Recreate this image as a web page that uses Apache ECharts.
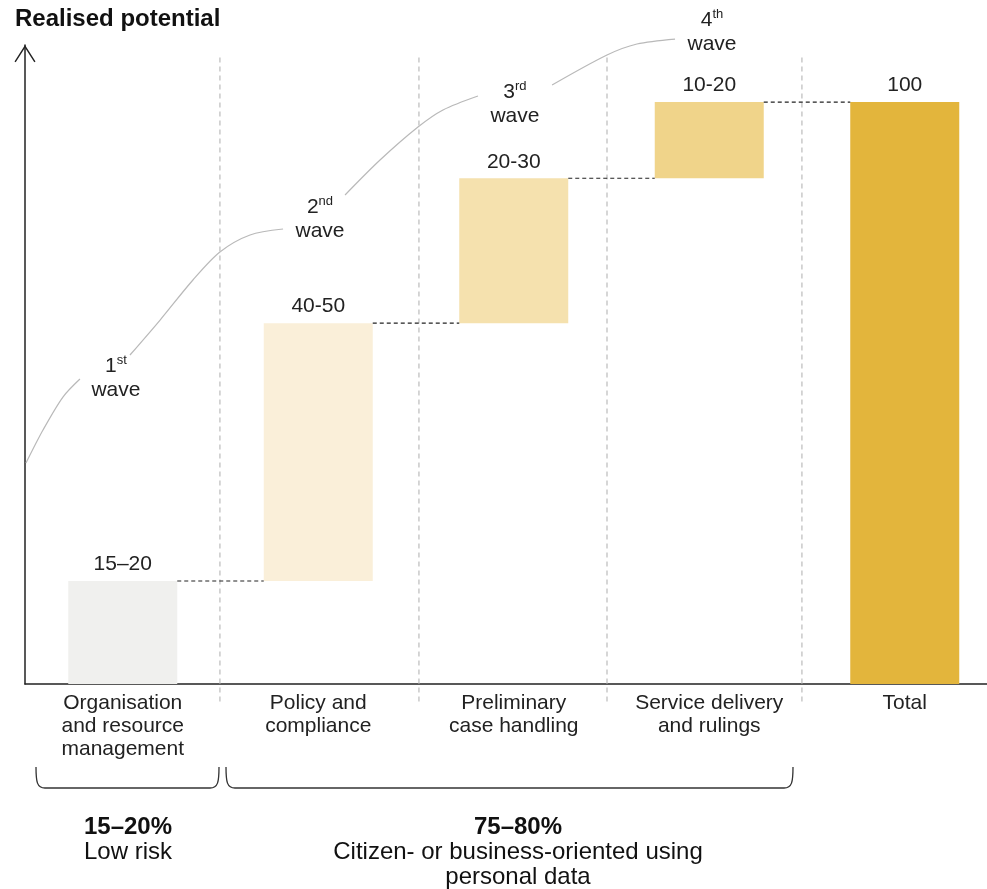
<!DOCTYPE html>
<html>
<head>
<meta charset="utf-8">
<title>Realised potential</title>
<script src="https://cdn.jsdelivr.net/npm/echarts@6/dist/echarts.min.js"></script>
<style>
  html, body { margin: 0; padding: 0; background: #fff; }
  #chart { width: 987px; height: 889px; }
</style>
</head>
<body>
<div id="chart"></div>
<script>
// Category names along the x axis
const categories = [
  'Organisation\nand resource\nmanagement',
  'Policy and\ncompliance',
  'Preliminary\ncase handling',
  'Service delivery\nand rulings',
  'Total'
];
// Step contributions of each area (share of total potential)
const stepValues = [17.7, 44.3, 24.9, 13.1];
const totalValue = 100;
// Labels written above each bar
const rangeLabels = ['15–20', '40-50', '20-30', '10-20', '100'];
const barColors = ['#f0f0ee', '#faefd9', '#f5e1ae', '#f0d48a', '#e3b53c'];

// Dashed separators between area groups (position on a 0..5 category scale)
const dividerX = [0.997, 2.015, 2.977, 3.974];
const dividerSpan = [-3.0, 108.1];

// Wave curve, broken into segments around the wave labels: [x, y] pairs
const waveSegments = [
  [[0.005, 37.97], [0.092, 43.64], [0.194, 49.31], [0.281, 52.41]],
  [[0.537, 56.53], [0.691, 62.54], [0.859, 69.42], [0.997, 74.23], [1.151, 77.15], [1.320, 78.18]],
  [[1.637, 84.02], [1.816, 90.03], [2.010, 95.70], [2.138, 98.63], [2.317, 101.03]],
  [[2.696, 102.92], [2.977, 108.08], [3.130, 109.97], [3.325, 110.82]]
];
const waveLabelNums = ['1', '2', '3', '4'];
const waveLabelSups = ['st', 'nd', 'rd', 'th'];
const waveLabelPos = [[0.465, 52.6], [1.509, 79.9], [2.506, 99.7], [3.514, 112.0]];

const FONT = '"Liberation Sans", Arial, Helvetica, sans-serif';
const TEXT = '#222';
const BAR_WIDTH = 109;
const BAND_PX = 195.5;
const Y_MAX = 109.8;

// Waterfall: invisible base + visible step
const cumulative = [];
let run = 0;
stepValues.forEach(v => { run += v; cumulative.push(run); });
const baseData = [0].concat(cumulative.slice(0, stepValues.length - 1)).concat([0]);
const visibleData = stepValues.concat([totalValue]);

const halfBar = BAR_WIDTH / 2 / BAND_PX;

const series = [];

// Wave curve segments
waveSegments.forEach(seg => {
  series.push({
    type: 'line', xAxisIndex: 1, yAxisIndex: 0,
    data: seg, smooth: 0.3, symbol: 'none', clip: false, silent: true,
    lineStyle: { color: '#b9b9b9', width: 1.2 }, z: 1
  });
});

// Vertical dashed dividers
dividerX.forEach(x => {
  series.push({
    type: 'line', xAxisIndex: 1, yAxisIndex: 0,
    data: [[x, dividerSpan[0]], [x, dividerSpan[1]]],
    symbol: 'none', clip: false, silent: true,
    lineStyle: { color: '#c9c9c9', width: 1.5, type: [5, 4] }, z: 1
  });
});

// Waterfall bars
series.push({
  type: 'bar', stack: 'w', xAxisIndex: 0, yAxisIndex: 0,
  data: baseData, barWidth: BAR_WIDTH, silent: true,
  itemStyle: { color: 'transparent' }, z: 2
});
series.push({
  type: 'bar', stack: 'w', xAxisIndex: 0, yAxisIndex: 0,
  data: visibleData.map((v, i) => ({ value: v, itemStyle: { color: barColors[i] } })),
  barWidth: BAR_WIDTH, z: 2,
  label: {
    show: true, position: 'top', distance: 6,
    formatter: p => rangeLabels[p.dataIndex],
    fontFamily: FONT, fontSize: 21, color: TEXT
  }
});

// Connectors between consecutive bar tops
cumulative.forEach((level, i) => {
  series.push({
    type: 'line', xAxisIndex: 1, yAxisIndex: 0,
    data: [[i + 0.5 + halfBar, level], [i + 1.5 - halfBar, level]],
    symbol: 'none', silent: true, clip: false,
    lineStyle: { color: '#222', width: 1.2, type: [4, 3] }, z: 3
  });
});

// Wave labels
series.push({
  type: 'scatter', xAxisIndex: 1, yAxisIndex: 0,
  data: waveLabelPos, symbolSize: 0, silent: true, clip: false,
  itemStyle: { color: TEXT, opacity: 1 },
  label: {
    show: true, position: 'inside', color: TEXT, opacity: 1,
    textBorderWidth: 0,
    formatter: p => '{n|' + waveLabelNums[p.dataIndex] + '}{s|' + waveLabelSups[p.dataIndex] + '}\n{w|wave}',
    rich: {
      n: { fontFamily: FONT, fontSize: 21, color: TEXT, lineHeight: 24 },
      s: { fontFamily: FONT, fontSize: 13, color: TEXT, lineHeight: 16, verticalAlign: 'top' },
      w: { fontFamily: FONT, fontSize: 21, color: TEXT, lineHeight: 24 }
    }
  },
  emphasis: { disabled: true }
});

const chart = echarts.init(document.getElementById('chart'), null, { renderer: 'canvas' });

// Bottom bracket: two rounded corners joined by a straight line
const braceStyle = { fill: 'none', stroke: '#333', lineWidth: 1.3 };
const brace = (x1, x2, yTop, yBot) => [
  { type: 'bezierCurve', shape: { x1: x1, y1: yTop, cpx1: x1, cpy1: yBot - 6, cpx2: x1 + 1, cpy2: yBot, x2: x1 + 9, y2: yBot }, style: braceStyle },
  { type: 'line', shape: { x1: x1 + 9, y1: yBot, x2: x2 - 9, y2: yBot }, style: braceStyle },
  { type: 'bezierCurve', shape: { x1: x2 - 9, y1: yBot, cpx1: x2 - 1, cpy1: yBot, cpx2: x2, cpy2: yBot - 6, x2: x2, y2: yTop }, style: braceStyle }
];

const textEl = (x, y, text, bold) => ({
  type: 'text', x: x, y: y,
  style: { text: text, fontFamily: FONT, fontSize: 24, fontWeight: bold ? 'bold' : 'normal', fill: '#111', align: 'center', verticalAlign: 'middle' }
});

chart.setOption({
  animation: false,
  backgroundColor: '#ffffff',
  grid: { left: 25, top: 45, height: 639, width: BAND_PX * categories.length, outerBoundsMode: 'none', containLabel: false },
  xAxis: [
    {
      type: 'category', data: categories,
      axisLine: { show: true, lineStyle: { color: '#222', width: 1.5 } },
      axisTick: { show: false },
      axisLabel: { fontFamily: FONT, fontSize: 21, color: TEXT, lineHeight: 23, margin: 8, interval: 0 },
      splitLine: { show: false }
    },
    { type: 'value', min: 0, max: 5, show: false }
  ],
  yAxis: {
    type: 'value', min: 0, max: Y_MAX,
    axisLine: {
      show: true,
      lineStyle: { color: '#222', width: 1.5 },
      symbol: ['none', 'path://M10,0 L20.6,16.6 L19.4,17.4 L10,2.6 L0.6,17.4 L-0.6,16.6 Z'],
      symbolSize: [21, 17.5],
      symbolOffset: [0, -8.7]
    },
    axisTick: { show: false },
    axisLabel: { show: false },
    splitLine: { show: false }
  },
  graphic: [
    {
      type: 'text', x: 15, y: 19.5,
      style: { text: 'Realised potential', fontFamily: FONT, fontSize: 24, fontWeight: 'bold', fill: '#111', verticalAlign: 'middle' }
    }
  ].concat(brace(36, 219, 767, 788), brace(226, 793, 767, 788), [
    textEl(128, 827, '15–20%', true),
    textEl(128, 852, 'Low risk', false),
    textEl(518, 827, '75–80%', true),
    textEl(518, 852, 'Citizen- or business-oriented using', false),
    textEl(518, 877, 'personal data', false)
  ]),
  series: series
});
</script>
</body>
</html>
